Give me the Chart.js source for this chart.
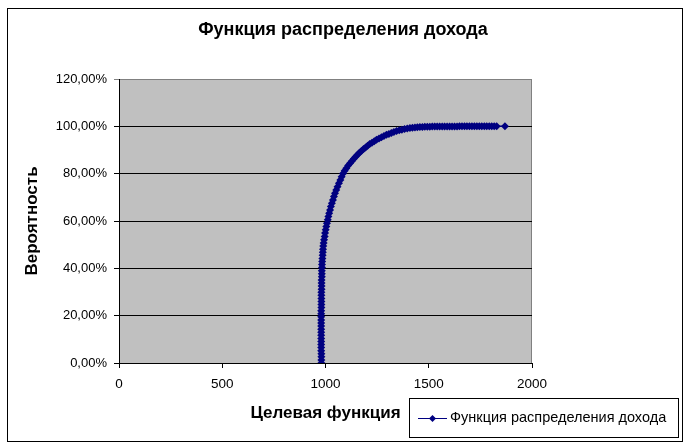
<!DOCTYPE html>
<html>
<head>
<meta charset="utf-8">
<script src="https://cdn.jsdelivr.net/npm/chart.js@4/dist/chart.umd.min.js"></script>
<style>
    html, body { margin: 0; padding: 0; background: #ffffff; }
    #wrap { width: 687px; height: 447px; }
</style>
</head>
<body>
<div id="wrap"><canvas id="cdf-chart" width="687" height="447"></canvas></div>
<script>
// ------------- DATI -------------//
var titolo = 'Функция распределения дохода';
var titoloX = 'Целевая функция';
var titoloY = 'Вероятность';
var etichettaSerie = 'Функция распределения дохода';

// valori della funzione obiettivo (asse x)
var valoriX = [
    980, 980, 980, 980, 979, 979, 979, 979, 979, 979,
    979, 979, 979, 979, 979, 979, 979, 979, 980, 980,
    980, 980, 980, 980, 981, 981, 981, 981, 982, 982,
    982, 983, 983, 984, 985, 986, 987, 988, 989, 991,
    993, 996, 998, 1001, 1004, 1007, 1011, 1014, 1018, 1022,
    1026, 1031, 1036, 1041, 1046, 1052, 1058, 1065, 1072, 1078,
    1085, 1093, 1101, 1110, 1119, 1128, 1137, 1146, 1155, 1164,
    1174, 1184, 1194, 1204, 1214, 1225, 1236, 1247, 1259, 1271,
    1283, 1295, 1307, 1319, 1331, 1344, 1357, 1370, 1383, 1396,
    1409, 1421, 1433, 1445, 1457, 1469, 1481, 1493, 1505, 1517,
    1529, 1541, 1553, 1565, 1577, 1589, 1601, 1613, 1625, 1637,
    1649, 1661, 1673, 1685, 1697, 1709, 1721, 1733, 1745, 1757,
    1769, 1781, 1793, 1805, 1817, 1829, 1869
];

// probabilita cumulata (asse y, frazione)
var probabilita = [
    0.000, 0.013, 0.026, 0.039, 0.052, 0.065, 0.078, 0.091, 0.104, 0.117,
    0.130, 0.143, 0.156, 0.169, 0.182, 0.195, 0.208, 0.221, 0.234, 0.247,
    0.260, 0.273, 0.286, 0.299, 0.312, 0.325, 0.338, 0.351, 0.364, 0.377,
    0.390, 0.403, 0.416, 0.429, 0.442, 0.455, 0.468, 0.481, 0.494, 0.507,
    0.521, 0.535, 0.549, 0.563, 0.577, 0.591, 0.605, 0.619, 0.633, 0.647,
    0.661, 0.675, 0.689, 0.703, 0.717, 0.731, 0.745, 0.759, 0.773, 0.787,
    0.801, 0.812, 0.823, 0.834, 0.844, 0.854, 0.863, 0.872, 0.880, 0.888,
    0.896, 0.904, 0.911, 0.918, 0.925, 0.931, 0.937, 0.943, 0.949, 0.954,
    0.959, 0.964, 0.968, 0.972, 0.976, 0.980, 0.983, 0.986, 0.989, 0.991,
    0.993, 0.9945, 0.9955, 0.996, 0.9968, 0.9973, 0.9978, 0.9982, 0.9985, 0.9988,
    0.9990, 0.9992, 0.9993, 0.9994, 0.9995, 0.9996, 0.9997, 0.99975, 0.9998, 0.9998,
    0.9999, 0.9999, 0.9999, 0.9999, 1.000, 1.000, 1.000, 1.000, 1.000, 1.000,
    1.000, 1.000, 1.000, 1.000, 1.000, 1.000, 1.000
];

var tickX = [0, 500, 1000, 1500, 2000];
var tickY = [0, 0.2, 0.4, 0.6, 0.8, 1.0, 1.2];
var etichetteY = ['0,00%', '20,00%', '40,00%', '60,00%', '80,00%', '100,00%', '120,00%'];

var punti = valoriX.map(function (v, i) {
    return { x: v, y: probabilita[i] };
});

var FONT = '"Liberation Sans", Arial, sans-serif';
var BLU = '#000080';

// ------------- PLUGIN: sfondo, titolo, cornice, legenda -------------//
var cornice = {
    id: 'cornice',
    beforeDraw: function (chart) {
        var ctx = chart.ctx;
        var a = chart.chartArea;
        ctx.save();
        ctx.fillStyle = '#ffffff';
        ctx.fillRect(0, 0, chart.width, chart.height);
        ctx.fillStyle = '#c0c0c0';
        ctx.fillRect(a.left, a.top, a.right - a.left, a.bottom - a.top);
        ctx.strokeStyle = '#808080';
        ctx.lineWidth = 1;
        ctx.strokeRect(a.left + 0.5, a.top + 0.5, a.right - a.left - 1, a.bottom - a.top);
        ctx.restore();
    },
    afterDraw: function (chart) {
        var ctx = chart.ctx;
        ctx.save();
        // titolo
        ctx.fillStyle = '#000000';
        ctx.font = 'bold 18px ' + FONT;
        ctx.textAlign = 'center';
        ctx.textBaseline = 'middle';
        ctx.fillText(titolo, 343, 30);
        // cornice esterna
        ctx.strokeStyle = '#000000';
        ctx.lineWidth = 1;
        ctx.strokeRect(7.5, 8.5, 675, 433);
        // legenda
        ctx.fillStyle = '#ffffff';
        ctx.fillRect(409.5, 398.5, 269, 39);
        ctx.strokeRect(409.5, 398.5, 269, 39);
        ctx.strokeStyle = BLU;
        ctx.beginPath();
        ctx.moveTo(418, 418.5);
        ctx.lineTo(447, 418.5);
        ctx.stroke();
        ctx.fillStyle = BLU;
        ctx.beginPath();
        ctx.moveTo(432.5, 415);
        ctx.lineTo(436, 418.5);
        ctx.lineTo(432.5, 422);
        ctx.lineTo(429, 418.5);
        ctx.closePath();
        ctx.fill();
        ctx.fillStyle = '#000000';
        ctx.font = '14.5px ' + FONT;
        ctx.textBaseline = 'middle';
        ctx.textAlign = 'left';
        ctx.fillText(etichettaSerie, 450, 418);
        ctx.restore();
    }
};

var ctx = document.getElementById('cdf-chart');
var chart = new Chart(ctx, {
    type: 'scatter',
    data: {
        datasets: [{
            label: etichettaSerie,
            data: punti,
            showLine: true,
            borderColor: BLU,
            borderWidth: 1.5,
            backgroundColor: BLU,
            pointStyle: 'rectRot',
            pointRadius: 4,
            pointHoverRadius: 4,
            pointBorderWidth: 0
        }]
    },
    options: {
        responsive: false,
        animation: false,
        layout: { padding: { left: 0, right: 155, top: 79, bottom: 0 } },
        plugins: {
            legend: { display: false },
            tooltip: { enabled: false },
            title: { display: false }
        },
        scales: {
            x: {
                type: 'linear',
                min: 0,
                max: 2000,
                afterBuildTicks: function (scale) {
                    scale.ticks = tickX.map(function (v) { return { value: v }; });
                },
                afterFit: function (scale) { scale.height = 84; },
                ticks: {
                    color: '#000000',
                    font: { family: FONT, size: 13.5 },
                    padding: 8,
                    maxRotation: 0,
                    callback: function (value) { return String(value); }
                },
                grid: {
                    drawOnChartArea: false,
                    drawTicks: true,
                    tickLength: 5,
                    color: '#000000'
                },
                border: { display: true, color: '#000000', width: 1 },
                title: {
                    display: true,
                    text: titoloX,
                    color: '#000000',
                    font: { family: FONT, size: 17, weight: 'bold' },
                    padding: { top: 0, bottom: 23 }
                }
            },
            y: {
                type: 'linear',
                min: 0,
                max: 1.2,
                afterBuildTicks: function (scale) {
                    scale.ticks = tickY.map(function (v) { return { value: v }; });
                },
                afterFit: function (scale) { scale.width = 119; },
                ticks: {
                    color: '#000000',
                    font: { family: FONT, size: 13 },
                    padding: 7,
                    callback: function (value, index) { return etichetteY[index]; }
                },
                grid: {
                    drawOnChartArea: true,
                    drawTicks: true,
                    tickLength: 5,
                    color: function (c) { return c.index === 6 ? '#808080' : '#000000'; }
                },
                border: { display: true, color: '#000000', width: 1 },
                title: {
                    display: true,
                    text: titoloY,
                    color: '#000000',
                    font: { family: FONT, size: 17, weight: 'bold' },
                    padding: { top: 22, bottom: 0 }
                }
            }
        }
    },
    plugins: [cornice]
});
</script>
</body>
</html>
